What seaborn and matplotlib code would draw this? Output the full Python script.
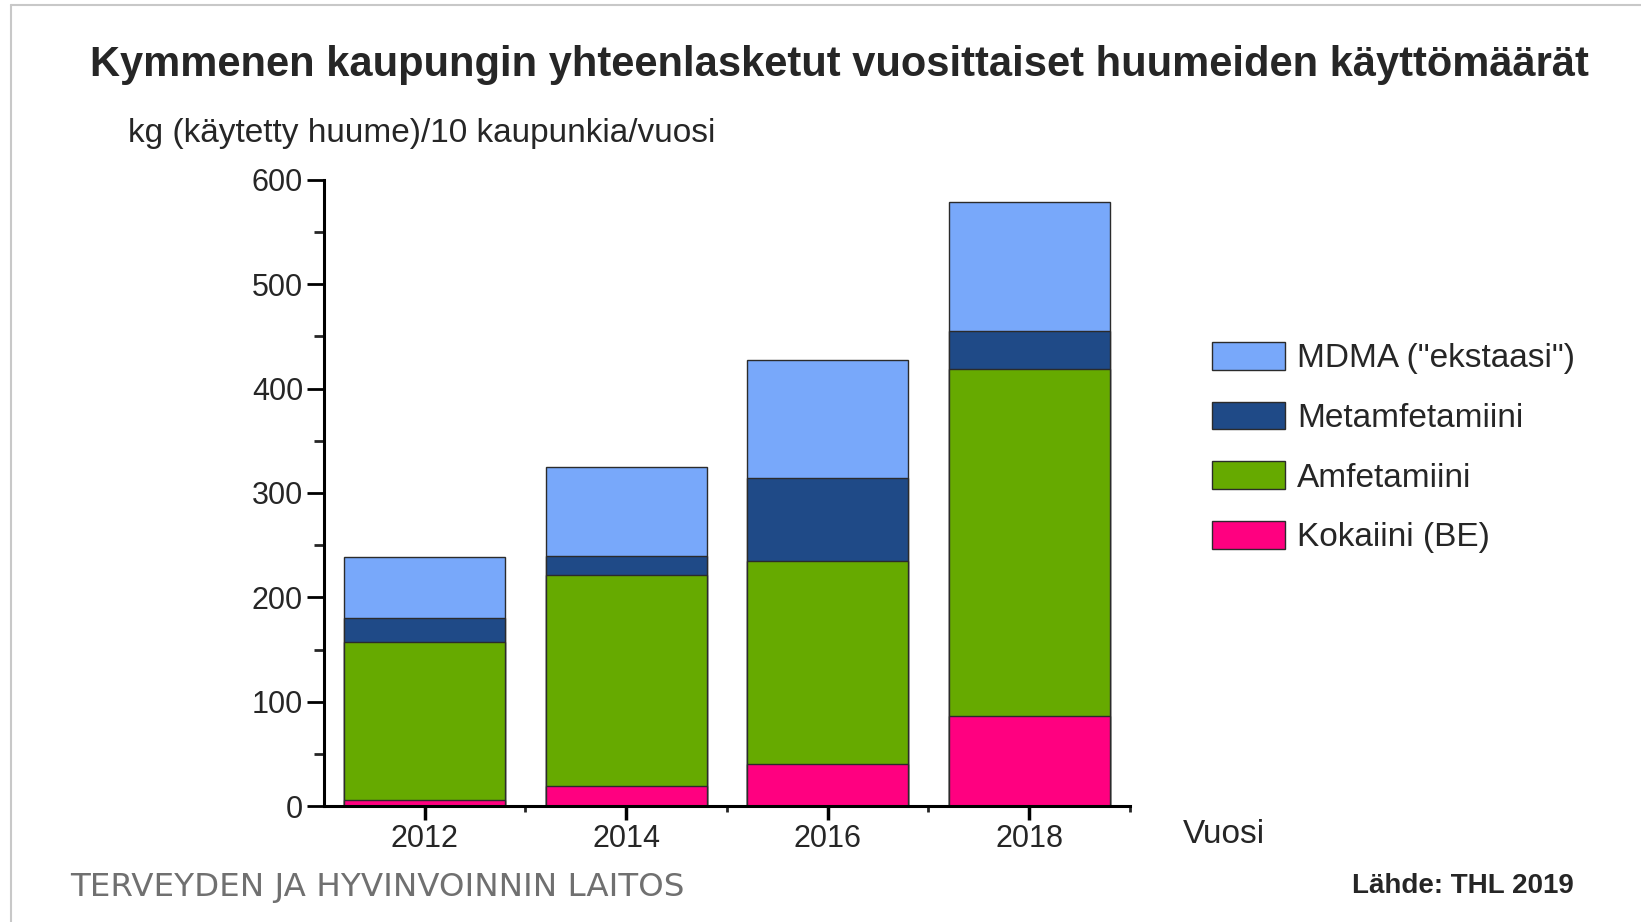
import matplotlib
matplotlib.use("Agg")
import matplotlib.pyplot as plt
from matplotlib.lines import Line2D
from matplotlib.ticker import MultipleLocator, FixedLocator
import numpy as np
import seaborn as sns

# data (kg per 10 cities per year)
years = ["2012", "2014", "2016", "2018"]
kokaiini = [6, 19, 40, 86]
amfetamiini = [151, 202, 195, 333]
metamfetamiini = [23, 19, 79, 36]
mdma = [59, 85, 113, 124]

names = ['MDMA ("ekstaasi")', "Metamfetamiini", "Amfetamiini", "Kokaiini (BE)"]
colors = ["#78a8fa", "#1f4a87", "#66aa00", "#ff0080"]

sns.set_style("white")
plt.rcParams["font.family"] = ["Liberation Sans", "DejaVu Sans"]

# cumulative heights, drawn tallest first so the lower parts sit on top
lvl4 = np.array(kokaiini)
lvl3 = lvl4 + np.array(amfetamiini)
lvl2 = lvl3 + np.array(metamfetamiini)
lvl1 = lvl2 + np.array(mdma)
stacks = [lvl1, lvl2, lvl3, lvl4]

fig = plt.figure(figsize=(16.41, 9.22), dpi=100)
ax = fig.add_axes([0.1974, 0.1258, 0.4912, 0.679])

for vals, name, c in zip(stacks, names, colors):
    sns.barplot(x=years, y=vals, color=c, label=name, width=0.8,
                edgecolor="#2b2b2b", linewidth=1, saturation=1, ax=ax)

ax.set_ylim(0, 600)
ax.set_xlim(-0.5, 3.5)
ax.yaxis.set_major_locator(MultipleLocator(100))
ax.yaxis.set_minor_locator(MultipleLocator(50))
ax.xaxis.set_minor_locator(FixedLocator([0.5, 1.5, 2.5, 3.5]))
ax.set_xlabel("")
ax.set_ylabel("")

for s in ["top", "right"]:
    ax.spines[s].set_visible(False)
for s in ["left", "bottom"]:
    ax.spines[s].set_linewidth(2.2)
    ax.spines[s].set_color("black")

ax.tick_params(axis="y", which="major", direction="out", length=12, width=2,
               labelsize=22, pad=3, left=True, color="black")
ax.tick_params(axis="y", which="minor", direction="out", length=7, width=2, left=True)
ax.tick_params(axis="x", which="major", direction="out", length=10, width=2.5,
               labelsize=22, pad=3, bottom=True, color="black")
ax.tick_params(axis="x", which="minor", direction="out", length=4, width=2, bottom=True)

h, l = ax.get_legend_handles_labels()
leg = ax.legend(h, l, loc="upper left", bbox_to_anchor=(0.7385, 0.629),
                bbox_transform=fig.transFigure, frameon=False, fontsize=24,
                handlelength=2.2, handleheight=0.9, labelspacing=0.82,
                handletextpad=0.35, borderaxespad=0, borderpad=0)

fig.text(0.5118, 0.93, "Kymmenen kaupungin yhteenlasketut vuosittaiset huumeiden käyttömäärät",
         ha="center", va="center", fontsize=30, fontweight="bold")
fig.text(0.078, 0.855, "kg (käytetty huume)/10 kaupunkia/vuosi",
         ha="left", va="center", fontsize=24)
fig.text(0.721, 0.095, "Vuosi", ha="left", va="center", fontsize=24)
fig.text(0.043, 0.037, "TERVEYDEN JA HYVINVOINNIN LAITOS", ha="left", va="center",
         fontsize=23.4, color="#707070", family=["DejaVu Sans"])
fig.text(0.959, 0.039, "Lähde: THL 2019", ha="right", va="center",
         fontsize=20, fontweight="bold")

# light frame around the slide
fig.add_artist(Line2D([0.0064, 1.0], [0.995, 0.995], color="#c8c8c8", lw=1.5,
                      transform=fig.transFigure))
fig.add_artist(Line2D([0.0064, 0.0064], [0.0, 0.995], color="#c8c8c8", lw=1.5,
                      transform=fig.transFigure))

fig.savefig("out.png", dpi=100)
